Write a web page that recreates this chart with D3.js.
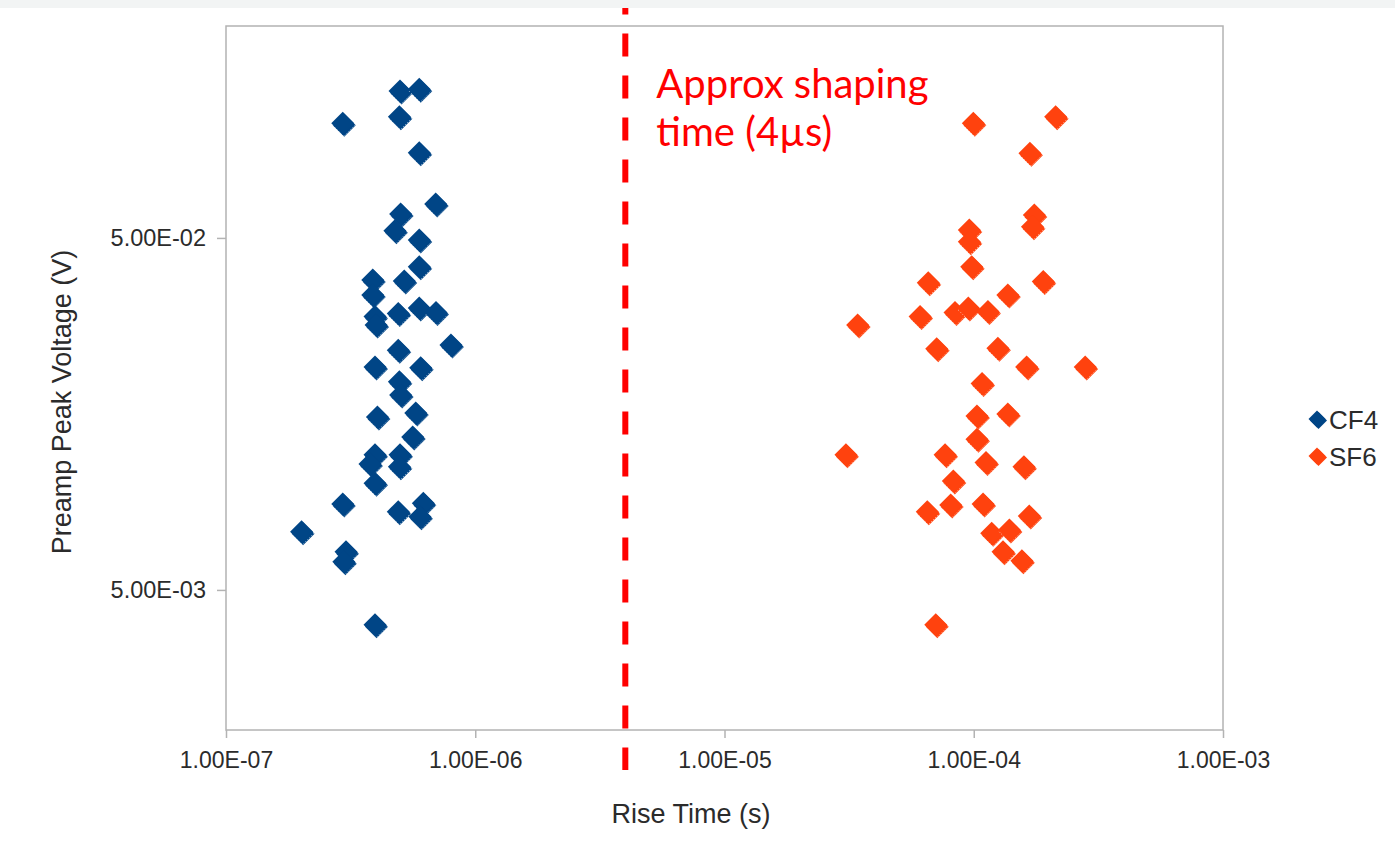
<!DOCTYPE html>
<html>
<head>
<meta charset="utf-8">
<script src="https://cdn.jsdelivr.net/npm/d3@7"></script>
<style>
  html, body { margin: 0; padding: 0; background: #ffffff; }
  svg { display: block; }
</style>
</head>
<body>
<svg id="chart" width="1395" height="861"></svg>
<script>
// Rise time (s) and preamp peak voltage (V) for each gas
const cf4Time = [
  4.99e-7, 5.96e-7, 2.94e-7, 4.96e-7, 5.96e-7, 6.94e-7, 5.02e-7, 4.76e-7,
  5.96e-7, 5.96e-7, 5.19e-7, 3.88e-7, 3.88e-7, 3.96e-7, 4.00e-7, 4.91e-7,
  5.96e-7, 6.96e-7, 4.91e-7, 7.99e-7, 3.96e-7, 6.04e-7, 4.96e-7, 5.02e-7,
  4.05e-7, 5.77e-7, 5.61e-7, 3.96e-7, 3.78e-7, 4.99e-7, 4.96e-7, 3.96e-7,
  2.94e-7, 4.91e-7, 6.19e-7, 6.00e-7, 2.01e-7, 3.03e-7, 2.97e-7, 3.96e-7
];
const cf4Voltage = [
  0.1307, 0.1322, 0.1058, 0.1105, 0.0873, 0.0624, 0.0585, 0.0524,
  0.0493, 0.0414, 0.0377, 0.0380, 0.0344, 0.0299, 0.0283, 0.0305,
  0.0316, 0.0307, 0.0240, 0.0248, 0.0215, 0.0214, 0.0195, 0.0179,
  0.0155, 0.0159, 0.0136, 0.0121, 0.0114, 0.0121, 0.0112, 0.01004,
  0.00877, 0.00834, 0.00881, 0.00807, 0.00732, 0.00642, 0.00601, 0.00398
];
const sf6Time = [
  9.96e-5, 2.13e-4, 1.68e-4, 1.75e-4, 1.72e-4, 9.60e-5, 9.60e-5, 9.81e-5,
  6.57e-5, 1.90e-4, 1.37e-4, 6.09e-5, 8.41e-5, 9.51e-5, 1.14e-4, 3.42e-5,
  7.10e-5, 1.25e-4, 1.63e-4, 2.80e-4, 1.08e-4, 1.03e-4, 1.37e-4, 1.03e-4,
  3.07e-5, 7.67e-5, 1.12e-4, 1.59e-4, 8.28e-5, 8.08e-5, 6.51e-5, 1.09e-4,
  1.67e-4, 1.18e-4, 1.39e-4, 1.31e-4, 1.56e-4, 7.04e-5
];
const sf6Voltage = [
  0.1058, 0.1105, 0.0870, 0.0581, 0.0538, 0.0527, 0.0488, 0.0414,
  0.0373, 0.0376, 0.0344, 0.0299, 0.0307, 0.0316, 0.0309, 0.0283,
  0.0242, 0.0243, 0.0215, 0.0215, 0.0193, 0.0156, 0.0158, 0.0134,
  0.0121, 0.0121, 0.0115, 0.0112, 0.0102, 0.00872, 0.00834, 0.00877,
  0.00811, 0.00724, 0.00740, 0.00642, 0.00605, 0.00398
];

const seriesNames = ["CF4", "SF6"];
const seriesColors = ["#004586", "#ff420e"];

const xTickValues = [1e-7, 1e-6, 1e-5, 1e-4, 1e-3];
const xTickLabels = ["1.00E-07", "1.00E-06", "1.00E-05", "1.00E-04", "1.00E-03"];
const yTickValues = [5e-2, 5e-3];
const yTickLabels = ["5.00E-02", "5.00E-03"];

const shapingTime = 4e-6;
const annotationLines = ["Approx shaping", "time (4\u00b5s)"];

const svg = d3.select("#chart");
const W = 1395, H = 861;
const plot = { left: 226, right: 1223, top: 26, bottom: 730 };

const x = d3.scaleLog().domain([1e-7, 1e-3]).range([plot.left, plot.right]);
const y = d3.scaleLog().domain([2e-3, 0.2]).range([plot.bottom, plot.top]);

// page background with a pale strip along the top edge
svg.append("rect").attr("width", W).attr("height", H).attr("fill", "#ffffff");
svg.append("rect").attr("width", W).attr("height", 8).attr("fill", "#f2f4f4");

// plot frame
svg.append("rect")
  .attr("x", plot.left).attr("y", plot.top)
  .attr("width", plot.right - plot.left).attr("height", plot.bottom - plot.top)
  .attr("fill", "#ffffff").attr("stroke", "#b3b3b3").attr("stroke-width", 1.5);

const tickFont = "'Liberation Sans', Arial, sans-serif";

// x axis
const xAxis = d3.axisBottom(x)
  .tickValues(xTickValues)
  .tickFormat((d, i) => xTickLabels[i])
  .tickSize(8).tickPadding(14);
const gx = svg.append("g").attr("transform", `translate(0,${plot.bottom})`).call(xAxis);
gx.select(".domain").remove();
gx.selectAll(".tick line").attr("stroke", "#b3b3b3").attr("stroke-width", 1.5);
gx.selectAll(".tick text").attr("fill", "#2b2b2b")
  .style("font-family", tickFont).style("font-size", "23px");

// y axis
const yAxis = d3.axisLeft(y)
  .tickValues(yTickValues)
  .tickFormat((d, i) => yTickLabels[i])
  .tickSize(9).tickPadding(11);
const gy = svg.append("g").attr("transform", `translate(${plot.left},0)`).call(yAxis);
gy.select(".domain").remove();
gy.selectAll(".tick line").attr("stroke", "#b3b3b3").attr("stroke-width", 1.5);
gy.selectAll(".tick text").attr("fill", "#2b2b2b")
  .style("font-family", tickFont).style("font-size", "23.5px");

// axis titles
svg.append("text")
  .attr("x", 691).attr("y", 823)
  .attr("text-anchor", "middle")
  .attr("fill", "#2b2b2b")
  .style("font-family", tickFont).style("font-size", "27px")
  .text("Rise Time (s)");

svg.append("text")
  .attr("transform", "translate(71,402) rotate(-90)")
  .attr("text-anchor", "middle")
  .attr("fill", "#2b2b2b")
  .style("font-family", tickFont).style("font-size", "27px")
  .text("Preamp Peak Voltage (V)");

// diamond marker: a square turned 45 degrees, with a small offset copy beneath
function diamondPath(half) {
  return `M0,${-half}L${half},0L0,${half}L${-half},0Z`;
}
function lowerRightEdge(half) {
  return `M${half},0L0,${half}L${-half},0`;
}
function drawMarkers(g, xs, ys, color, half) {
  const pts = xs.map((t, i) => ({ t, v: ys[i] }));
  const m = g.selectAll("g.pt").data(pts).join("g")
    .attr("class", "pt")
    .attr("transform", d => `translate(${x(d.t)},${y(d.v)})`);
  m.append("path").attr("d", diamondPath(half))
    .attr("transform", "translate(1.5,2)").attr("fill", color);
  m.append("path").attr("d", diamondPath(half)).attr("fill", color);
  m.append("path").attr("d", lowerRightEdge(half))
    .attr("transform", "translate(1,1.5)")
    .attr("fill", "none").attr("stroke", "#ffffff")
    .attr("stroke-width", 0.7).attr("stroke-dasharray", "1.2,1.6")
    .attr("opacity", 0.8);
}

const marks = svg.append("g");
drawMarkers(marks.append("g"), cf4Time, cf4Voltage, seriesColors[0], 11.5);
drawMarkers(marks.append("g"), sf6Time, sf6Voltage, seriesColors[1], 11.5);

// shaping-time marker line
svg.append("line")
  .attr("x1", x(shapingTime)).attr("x2", x(shapingTime))
  .attr("y1", 8).attr("y2", 770)
  .attr("stroke", "#ff0000").attr("stroke-width", 6)
  .attr("stroke-dasharray", "23,19").attr("stroke-dashoffset", 16.6);

const ann = svg.append("text")
  .attr("fill", "#ff0000")
  .style("font-family", "Lato, 'Open Sans', sans-serif")
  .style("font-size", "40px");
annotationLines.forEach((s, i) => {
  ann.append("tspan").attr("x", x(shapingTime) + 31).attr("y", 98 + i * 48).text(s);
});

// legend
const legend = svg.append("g");
seriesNames.forEach((name, i) => {
  const ly = 419 + i * 37;
  legend.append("path").attr("d", diamondPath(8.5))
    .attr("transform", `translate(1318.5,${ly + 1.5})`).attr("fill", seriesColors[i]);
  legend.append("path").attr("d", diamondPath(8.5))
    .attr("transform", `translate(1317,${ly})`).attr("fill", seriesColors[i]);
  legend.append("text")
    .attr("x", 1329).attr("y", ly + 10)
    .attr("fill", "#2b2b2b")
    .style("font-family", tickFont).style("font-size", "26px")
    .text(name);
});
</script>
</body>
</html>
